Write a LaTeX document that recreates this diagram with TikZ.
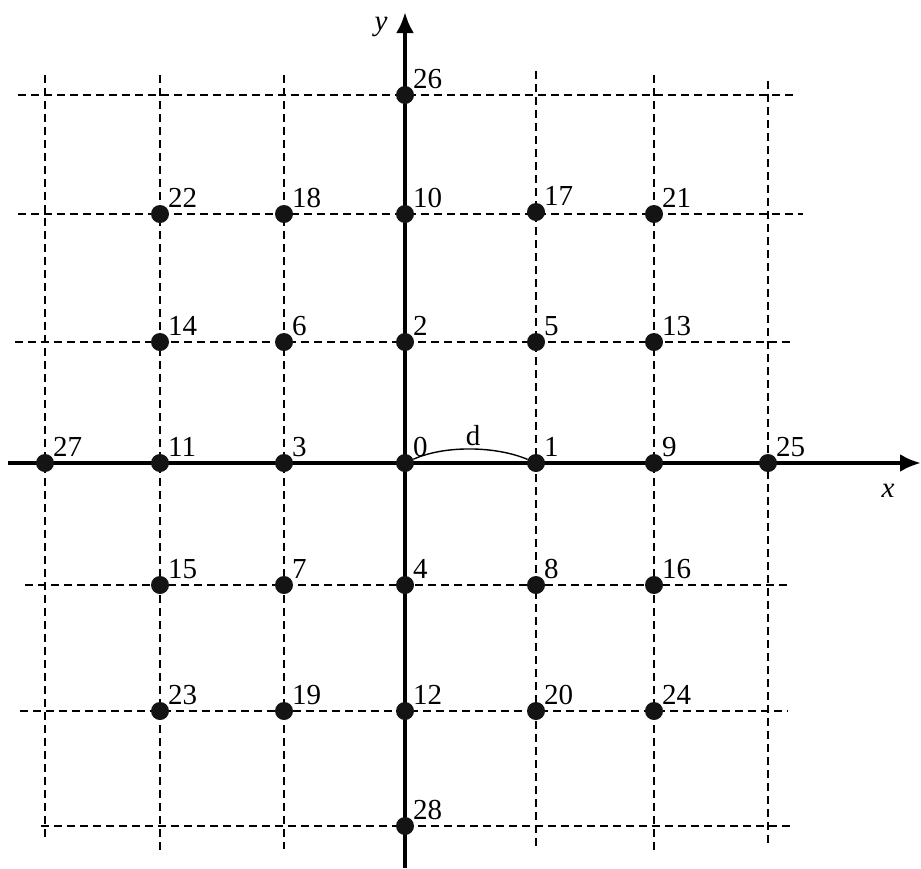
\documentclass[tikz,border=0pt]{standalone}
\usepackage{fontspec}
\setmainfont{Liberation Serif}
\usetikzlibrary{arrows.meta}
\begin{document}
\begin{tikzpicture}[x=1pt,y=-1pt,
  gridline/.style={line width=2.1pt, dash pattern=on 8pt off 5pt},
  axisline/.style={line width=4.4pt, -{Latex[length=21pt,width=18pt]}},
  dot/.style={circle, fill=black!92, inner sep=0pt, minimum size=18pt},
  numlbl/.style={anchor=base west, inner sep=0pt, font=\fontsize{29}{29}\selectfont},
  axlbl/.style={inner sep=0pt, font=\itshape\fontsize{29}{29}\selectfont}
]
\useasboundingbox (0,0) rectangle (921,868);
% vertical dashed grid lines
\draw[gridline] (45,75) -- (45,838);
\draw[gridline] (160,75) -- (160,851);
\draw[gridline] (284,75) -- (284,849);
\draw[gridline] (536,71) -- (536,848);
\draw[gridline] (654,75) -- (654,853);
\draw[gridline] (768,81) -- (768,845);
% horizontal dashed grid lines
\draw[gridline] (18,95) -- (794,95);
\draw[gridline] (18,214) -- (803,214);
\draw[gridline] (15,342) -- (790,342);
\draw[gridline] (25,585) -- (790,585);
\draw[gridline] (20,711) -- (788,711);
\draw[gridline] (41,826) -- (792,826);
% axes
\draw[axisline] (8,463) -- (921,463);
\draw[axisline] (405,868) -- (405,12);
\node[axlbl] (xlab) at (888,491) {x};
\node[axlbl] (ylab) at (381,27) {y};
% points
\foreach \n/\px/\py in {0/405/463, 1/536/463, 2/405/342, 3/284/463, 4/405/585,
  5/536/342, 6/284/342, 7/284/585, 8/536/585, 9/654/463, 10/405/214,
  11/160/463, 12/405/711, 13/654/342, 14/160/342, 15/160/585, 16/654/585,
  17/536/212, 18/284/214, 19/284/711, 20/536/711, 21/654/214, 22/160/214,
  23/160/711, 24/654/711, 25/768/463, 26/405/95, 27/45/463, 28/405/826}{
  \node[dot] (p\n) at (\px,\py) {};
  \path (p\n.center) ++(8,-7) node[numlbl] (l\n) {\n};
}
% distance arc
\draw[line width=1.4pt] (p0) .. controls +(40,-18) and +(-40,-17) .. (p1);
\node[inner sep=0pt, font=\fontsize{29}{29}\selectfont] (dlab) at (473,436) {d};
\end{tikzpicture}
\end{document}
